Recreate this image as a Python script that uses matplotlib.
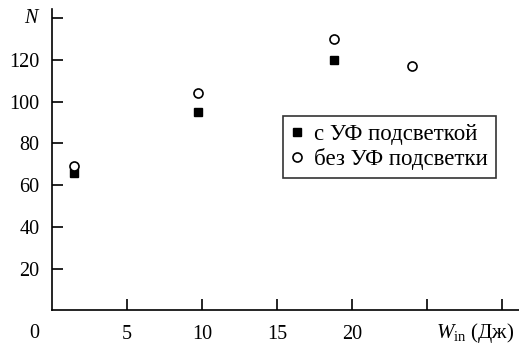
import numpy as np
import matplotlib
matplotlib.use('Agg')
import matplotlib.pyplot as plt

plt.rcParams['font.family'] = ['Liberation Serif', 'DejaVu Serif']
plt.rcParams['mathtext.fontset'] = 'custom'
plt.rcParams['mathtext.rm'] = 'Liberation Serif'
plt.rcParams['mathtext.it'] = 'Liberation Serif:italic'

# data
w_uv = [1.5, 9.7, 18.8]
n_uv = [66, 95, 120]
w_nouv = [1.5, 9.7, 18.8, 24.0]
n_nouv = [69, 104, 130, 117]

xticks = [5, 10, 15, 20, 25, 30]
xticklabels = ['5', '10', '15', '20', '', '']
yticks = [20, 40, 60, 80, 100, 120, 140]
yticklabels = ['20', '40', '60', '80', '100', '120', '']

fig = plt.figure(figsize=(5.19, 3.47), dpi=100)
ax = fig.add_axes([0.0998, 0.1055, 0.9002, 0.869])

ax.plot(w_uv, n_uv, ls='none', marker='s', ms=5.8, mfc='k', mec='k',
        label='с УФ подсветкой')
ax.plot(w_nouv, n_nouv, ls='none', marker='o', ms=6.5, mfc='w', mec='k',
        mew=1.2, label='без УФ подсветки')

ax.set_xlim(0, 31.1)
ax.set_ylim(0, 144.4)
ax.set_xticks(xticks)
ax.set_xticklabels(xticklabels, fontsize=14.5)
ax.set_yticks(yticks)
ax.set_yticklabels(yticklabels, fontsize=14.5)
ax.tick_params(direction='in', length=8, width=1.2)
ax.tick_params(axis='x', pad=10.5)
ax.tick_params(axis='y', pad=9)

for spi in ['top', 'right']:
    ax.spines[spi].set_visible(False)
for spi in ['bottom', 'left']:
    ax.spines[spi].set_linewidth(1.2)

ax.text(-0.85, -13.2, '0', fontsize=14.5, ha='right', va='baseline')
ax.text(-0.75, 140, '$N$', fontsize=14.5, ha='right', va='center')
ax.text(28.15, -13.2, r'$W_{\mathrm{in}}$ (Дж)', fontsize=15, ha='center',
        va='baseline')

leg = ax.legend(loc='upper left', bbox_to_anchor=(0.495, 0.646), fontsize=16.5,
                frameon=True, fancybox=False, edgecolor='k', handlelength=0.5,
                handletextpad=0.5, borderpad=0.35, labelspacing=0.13,
                borderaxespad=0)
leg.get_frame().set_linewidth(1.2)

plt.savefig('out.png', dpi=100)
